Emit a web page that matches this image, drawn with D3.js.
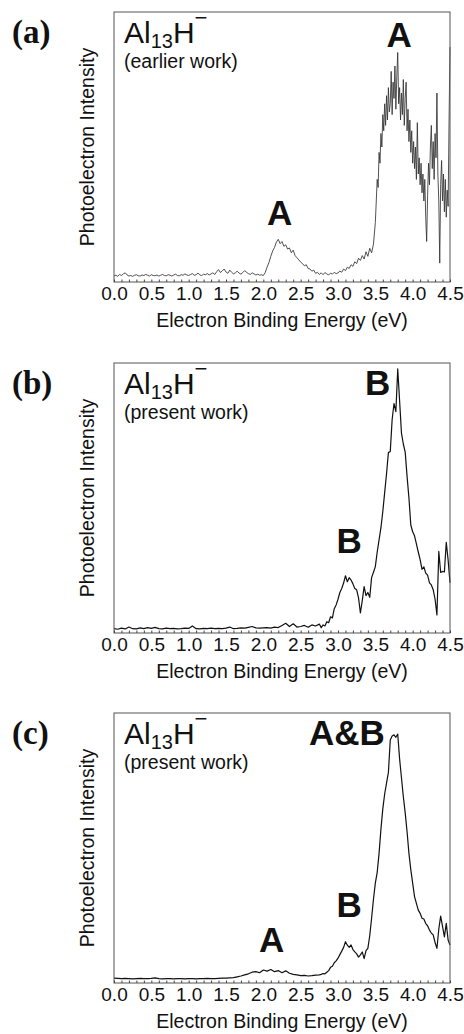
<!DOCTYPE html>
<html>
<head>
<meta charset="utf-8">
<script src="https://cdn.jsdelivr.net/npm/d3@7"></script>
<style>
  body { margin: 0; background: #fff; }
  svg text { fill: #111; }
</style>
</head>
<body>
<div id="chart"></div>
<script>
// energy axis
const xTicks = [0, 0.5, 1, 1.5, 2, 2.5, 3, 3.5, 4, 4.5]

// (a) earlier work, intensities (fraction of full scale) on three grids
const aBaseStart = 0, aBaseStep = 0.025
const aBase = [
  .022,.025,.021,.028,.024,.030,.034,.026,.022,.024,
  .021,.025,.027,.023,.022,.026,.024,.028,.025,.022,
  .027,.024,.023,.026,.022,.025,.028,.024,.023,.027,
  .025,.022,.026,.029,.024,.023,.027,.025,.030,.026,
  .024,.028,.031,.025,.027,.033,.026,.024,.029,.027,
  .031,.026,.030,.034,.028,.038,.046,.035,.041,.048,
  .037,.032,.044,.036,.030,.034,.040,.033,.029,.035,
  .042,.036,.031,.028,.034,.030,.026,.029,.025,.027
]
const aPeakStart = 2.0, aPeakStep = 0.025
const aPeak = [
  .024,.035,.055,.072,.095,.115,.128,.148,.158,.142,
  .150,.132,.138,.122,.126,.108,.118,.098,.090,.082,
  .074,.068,.060,.064,.050,.048,.040,.044,.032,.036,
  .028,.034,.027,.035,.030,.026,.033,.029,.036,.031,
  .034,.040,.036,.048,.042,.055,.050,.064,.058,.075,
  .068,.088,.080,.098,.085,.112,.095,.125,.108,.140
]
const aHighStart = 3.5, aHighStep = 0.0125
const aHigh = [
  .22,.30,.38,.35,.48,.44,.55,.50,.62,.56,
  .66,.58,.69,.60,.72,.63,.66,.78,.62,.74,
  .68,.80,.64,.76,.85,.66,.72,.60,.70,.62,
  .75,.58,.68,.74,.56,.64,.52,.60,.48,.56,
  .44,.52,.42,.50,.38,.59,.40,.46,.36,.44,
  .33,.40,.30,.38,.24,.15,.32,.44,.36,.50,
  .58,.42,.52,.38,.55,.46,.70,.40,.30,.07,
  .36,.45,.30,.40,.26,.38,.24,.34,.28,.60,
  .87
]

// (b) present work
const bLowStart = 0, bLowStep = 0.05
const bLow = [
  .016,.014,.018,.015,.022,.016,.015,.019,.016,.020,
  .017,.021,.016,.015,.018,.016,.017,.015,.016,.018,
  .017,.026,.016,.015,.017,.016,.018,.016,.017,.016,
  .018,.022,.016,.017,.019,.018,.021,.024,.019,.018,
  .019,.020,.018,.022,.020,.028,.036,.024,.034,.022,
  .024,.028,.021,.030,.026,.033
]
const bHighStart = 2.775, bHighStep = 0.025
const bHigh = [
  .020,.030,.026,.042,.038,.060,.056,.090,.104,.125,
  .150,.165,.185,.212,.190,.205,.196,.182,.165,.160,
  .130,.074,.120,.172,.138,.150,.132,.205,.225,.246,
  .300,.345,.390,.450,.520,.590,.668,.672,.790,.850,
  .820,.978,.860,.740,.700,.670,.580,.500,.400,.375,
  .360,.330,.300,.272,.236,.245,.222,.214,.186,.178,
  .160,.125,.067,.302,.224,.228,.226,.336,.270,.186
]

// (c) present work
const cLowStart = 0, cLowStep = 0.05
const cLow = [
  .018,.017,.016,.017,.016,.015,.016,.017,.016,.016,
  .017,.019,.016,.015,.016,.016,.015,.016,.016,.015,
  .016,.016,.015,.016,.016,.017,.016,.016,.017,.018,
  .018,.019,.020,.023,.026,.030,.034,.040,.042,.038,
  .048,.044,.050,.042,.046,.038,.045,.036,.032,.030,
  .027,.028,.026,.027,.029,.030
]
const cHighStart = 2.775, cHighStep = 0.025
const cHigh = [
  .032,.035,.034,.040,.046,.058,.062,.075,.082,.092,
  .105,.118,.132,.153,.140,.132,.141,.124,.115,.108,
  .096,.104,.115,.090,.120,.128,.175,.240,.310,.370,
  .410,.480,.570,.645,.700,.740,.780,.900,.915,.919,
  .910,.922,.830,.760,.690,.630,.560,.480,.420,.370,
  .320,.295,.270,.258,.240,.237,.220,.212,.196,.185,
  .178,.150,.128,.200,.248,.210,.171,.221,.159,.141
]

// peak labels: [energy, intensity, text]
const aLabels = [[3.82, 0.87, "A"], [2.22, 0.21, "A"]]
const bLabels = [[3.53, 0.88, "B"], [3.15, 0.297, "B"]]
const cLabels = [[3.12, 0.88, "A&B"], [3.15, 0.244, "B"], [2.11, 0.115, "A"]]

function toPoints(start, step, vals) {
  return vals.map((v, i) => ({e: start + i * step, v}))
}

const panels = [
  {tag: "(a)", note: "(earlier work)", top: 12, thin: true, labels: aLabels,
   pts: [].concat(toPoints(aBaseStart, aBaseStep, aBase), toPoints(aPeakStart, aPeakStep, aPeak), toPoints(aHighStart, aHighStep, aHigh))},
  {tag: "(b)", note: "(present work)", top: 363, thin: false, labels: bLabels,
   pts: [].concat(toPoints(bLowStart, bLowStep, bLow), toPoints(bHighStart, bHighStep, bHigh))},
  {tag: "(c)", note: "(present work)", top: 713, thin: false, labels: cLabels,
   pts: [].concat(toPoints(cLowStart, cLowStep, cLow), toPoints(cHighStart, cHighStep, cHigh))}
]

const W = 464, H = 1034
const left = 114, right = 450, ph = 270
const sans = "'Liberation Sans', Arial, sans-serif"

const svg = d3.select("#chart").append("svg")
  .attr("width", W).attr("height", H)
  .style("font-family", sans)

const x = d3.scaleLinear().domain([0, 4.5]).range([left, right])

panels.forEach(p => {
  const bottom = p.top + ph
  const y = d3.scaleLinear().domain([0, 1]).range([bottom, p.top])
  const g = svg.append("g")

  // trace
  g.append("path")
    .datum(p.pts)
    .attr("fill", "none")
    .attr("stroke", p.thin ? "#333" : "#111")
    .attr("stroke-width", p.thin ? 0.85 : 1.2)
    .attr("stroke-linejoin", "round")
    .attr("d", d3.line().x(d => x(d.e)).y(d => y(d.v)))

  // frame
  g.append("rect")
    .attr("x", left).attr("y", p.top)
    .attr("width", right - left).attr("height", ph)
    .attr("fill", "none").attr("stroke", "#555").attr("stroke-width", 1)

  // inward minor ticks
  const minor = g.append("g")
    .attr("transform", "translate(0," + bottom + ")")
    .call(d3.axisTop(x).tickValues(d3.range(0, 4.51, 0.1)).tickSize(2.5).tickFormat(""))
  minor.select(".domain").remove()
  minor.selectAll("line").attr("stroke", "#444")

  // tick labels
  const ax = g.append("g")
    .attr("transform", "translate(0," + bottom + ")")
    .call(d3.axisBottom(x).tickValues(xTicks).tickSize(0).tickPadding(5).tickFormat(d3.format(".1f")))
  ax.select(".domain").remove()
  ax.selectAll("text").attr("font-size", 19).attr("font-family", sans).attr("fill", "#111")

  svg.append("text")
    .attr("x", (left + right) / 2).attr("y", bottom + 45)
    .attr("text-anchor", "middle").attr("font-size", 19.5)
    .text("Electron Binding Energy (eV)")

  svg.append("text")
    .attr("transform", "translate(94," + (p.top + ph / 2) + ") rotate(-90)")
    .attr("text-anchor", "middle").attr("font-size", 19.5)
    .text("Photoelectron Intensity")

  svg.append("text")
    .attr("x", 12).attr("y", p.top + 31)
    .attr("font-family", "'Liberation Serif', 'Times New Roman', serif")
    .attr("font-weight", "bold").attr("font-size", 33)
    .text(p.tag)

  const f = svg.append("text").attr("x", 124).attr("y", p.top + 31).attr("font-size", 30)
  f.append("tspan").text("Al")
  f.append("tspan").attr("dy", 5).attr("font-size", 20).text("13")
  f.append("tspan").attr("dy", -5).text("H")
  f.append("tspan").attr("dy", -18).attr("font-size", 22).text("\u2212")

  svg.append("text")
    .attr("x", 124).attr("y", p.top + 56).attr("font-size", 19.5)
    .text(p.note)

  g.selectAll(".pk").data(p.labels).join("text")
    .attr("x", d => x(d[0])).attr("y", d => y(d[1]))
    .attr("text-anchor", "middle").attr("font-weight", "bold").attr("font-size", 35)
    .text(d => d[2])
})
</script>
</body>
</html>
